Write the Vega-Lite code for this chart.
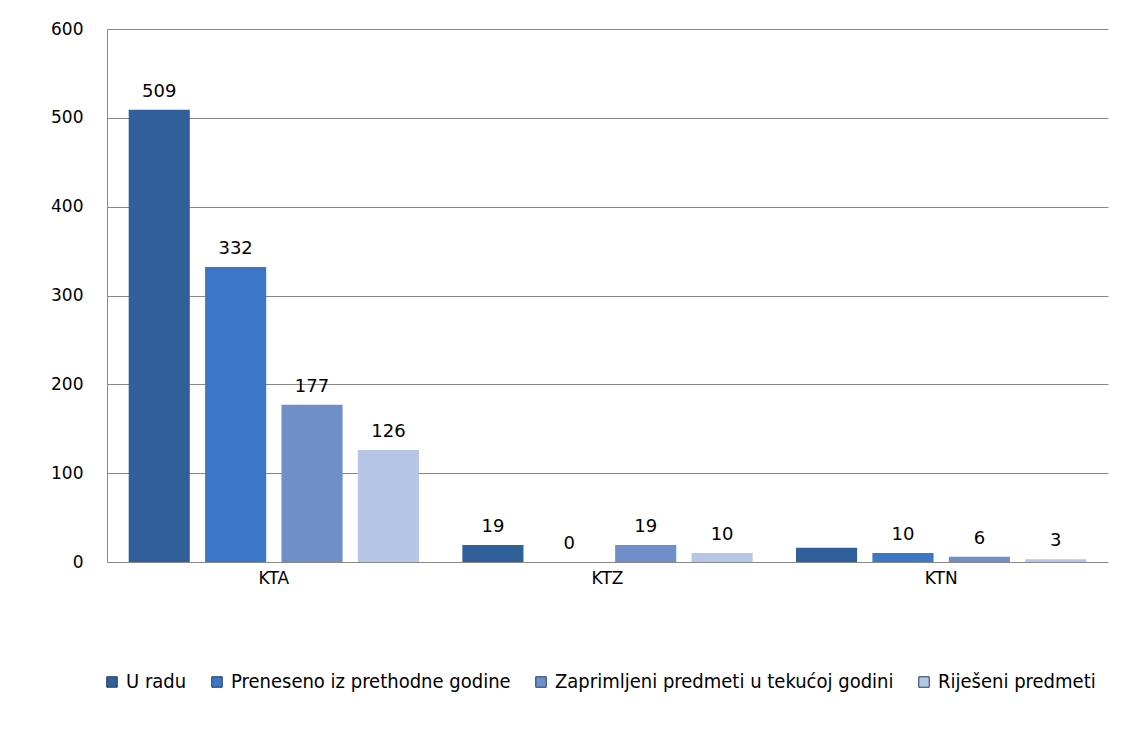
{
  "$schema": "https://vega.github.io/schema/vega-lite/v6.json",
  "width": 1001,
  "height": 533,
  "autosize": {"type": "none"},
  "padding": {"left": 107, "top": 29, "right": 22, "bottom": 173},
  "background": "white",
  "config": {
    "view": {"stroke": null},
    "font": "Liberation Sans Narrow, DejaVu Sans Condensed, sans-serif"
  },
  "data": {
    "values": [
      {"grupa": "KTA", "serija": "U radu", "vrijednost": 509, "oznaka": "509"},
      {"grupa": "KTA", "serija": "Preneseno iz prethodne godine", "vrijednost": 332, "oznaka": "332"},
      {"grupa": "KTA", "serija": "Zaprimljeni predmeti u tekućoj godini", "vrijednost": 177, "oznaka": "177"},
      {"grupa": "KTA", "serija": "Riješeni predmeti", "vrijednost": 126, "oznaka": "126"},
      {"grupa": "KTZ", "serija": "U radu", "vrijednost": 19, "oznaka": "19"},
      {"grupa": "KTZ", "serija": "Preneseno iz prethodne godine", "vrijednost": 0, "oznaka": "0"},
      {"grupa": "KTZ", "serija": "Zaprimljeni predmeti u tekućoj godini", "vrijednost": 19, "oznaka": "19"},
      {"grupa": "KTZ", "serija": "Riješeni predmeti", "vrijednost": 10, "oznaka": "10"},
      {"grupa": "KTN", "serija": "U radu", "vrijednost": 16, "oznaka": ""},
      {"grupa": "KTN", "serija": "Preneseno iz prethodne godine", "vrijednost": 10, "oznaka": "10"},
      {"grupa": "KTN", "serija": "Zaprimljeni predmeti u tekućoj godini", "vrijednost": 6, "oznaka": "6"},
      {"grupa": "KTN", "serija": "Riješeni predmeti", "vrijednost": 3, "oznaka": "3"}
    ]
  },
  "encoding": {
    "x": {
      "field": "grupa", "type": "nominal", "sort": ["KTA", "KTZ", "KTN"],
      "scale": {"paddingInner": 0.13, "paddingOuter": 0.065},
      "axis": {"title": null, "labelAngle": 0, "domain": false, "ticks": false, "labelPadding": 8, "labelFontSize": 17, "labelColor": "#000000", "labelFont": "DejaVu Sans"}
    },
    "xOffset": {
      "field": "serija", "type": "nominal",
      "sort": ["U radu", "Preneseno iz prethodne godine", "Zaprimljeni predmeti u tekućoj godini", "Riješeni predmeti"],
      "scale": {"paddingInner": 0.2, "paddingOuter": 0}
    },
    "y": {
      "field": "vrijednost", "type": "quantitative",
      "scale": {"domain": [0, 600], "nice": false},
      "axis": {"title": null, "values": [0, 100, 200, 300, 400, 500, 600], "ticks": false, "domain": true, "domainColor": "#888888", "gridColor": "#888888", "gridWidth": 1, "labelPadding": 24, "labelFontSize": 17, "labelColor": "#000000", "labelFont": "DejaVu Sans"}
    }
  },
  "layer": [
    {
      "mark": {"type": "bar", "strokeWidth": 0},
      "encoding": {
        "color": {
          "field": "serija", "type": "nominal",
          "sort": ["U radu", "Preneseno iz prethodne godine", "Zaprimljeni predmeti u tekućoj godini", "Riješeni predmeti"],
          "scale": {
            "domain": ["U radu", "Preneseno iz prethodne godine", "Zaprimljeni predmeti u tekućoj godini", "Riješeni predmeti"],
            "range": ["#30609A", "#3B77C4", "#6E8FC8", "#B5C6E6"]
          },
          "legend": {
            "title": null, "orient": "none", "direction": "horizontal", "columns": 4,
            "legendX": -5, "legendY": 643,
            "symbolType": "square", "symbolSize": 110, "symbolStrokeColor": "#1f3a5f", "symbolStrokeWidth": 1,
            "labelFontSize": 20, "labelColor": "#000000", "labelLimit": 450, "columnPadding": 20, "labelOffset": 4
          }
        }
      }
    },
    {
      "mark": {"type": "text", "baseline": "bottom", "dy": -9, "fontSize": 18, "color": "#000000", "font": "DejaVu Sans"},
      "encoding": {"text": {"field": "oznaka", "type": "nominal"}}
    }
  ]
}
